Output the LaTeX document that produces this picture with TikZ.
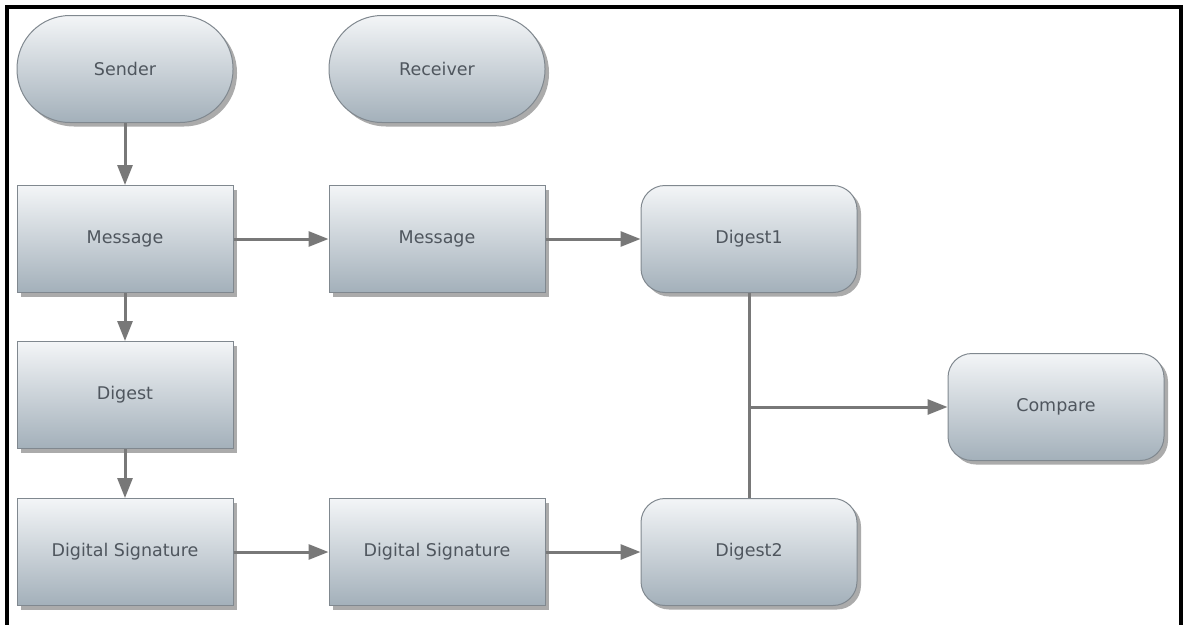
\documentclass[tikz,border=0pt]{standalone}
\usepackage{fontspec}
\setmainfont{DejaVu Sans}
\usetikzlibrary{arrows.meta,shadows}
\definecolor{txt}{HTML}{4F565E}
\definecolor{topc}{HTML}{F3F5F7}
\definecolor{botc}{HTML}{A3B0BA}
\definecolor{edgec}{HTML}{80888F}
\definecolor{linec}{HTML}{787878}
\tikzset{
 base/.style={draw=edgec, line width=1pt, top color=topc, bottom color=botc,
   minimum width=216pt, minimum height=107pt, text=txt,
   font=\fontsize{17.5}{20}\selectfont,
   drop shadow={shadow xshift=4pt, shadow yshift=-4pt, fill=black!60, opacity=0.55}},
 rectbox/.style={base},
 roundbox/.style={base, rounded corners=24pt},
 pill/.style={base, rounded corners=53pt},
 connline/.style={draw=linec, line width=3pt},
 conn/.style={connline, -{Triangle[length=20pt,width=15pt]}},
 frame/.style={draw=black, line width=3.5pt},
}
\begin{document}
\begin{tikzpicture}[x=1pt, y=-1pt]
\useasboundingbox (0,0) rectangle (1183,624);
\draw[frame] (7,626) -- (7,7) -- (1181,7) -- (1181,626);
\node[pill] (sender) at (125,69) {Sender};
\node[pill] (receiver) at (437,69) {Receiver};
\node[rectbox] (msg1) at (125,239) {Message};
\node[rectbox] (msg2) at (437,239) {Message};
\node[roundbox] (dig1) at (749,239) {Digest1};
\node[rectbox] (dig) at (125,395) {Digest};
\node[roundbox] (cmp) at (1056,407) {Compare};
\node[rectbox] (ds1) at (125,552) {Digital Signature};
\node[rectbox] (ds2) at (437,552) {Digital Signature};
\node[roundbox] (dig2) at (749,552) {Digest2};
\draw[conn] (sender) -- (msg1);
\draw[conn] (msg1) -- (dig);
\draw[conn] (dig) -- (ds1);
\draw[conn] (msg1) -- (msg2);
\draw[conn] (msg2) -- (dig1);
\draw[conn] (ds1) -- (ds2);
\draw[conn] (ds2) -- (dig2);
\draw[connline] (dig1) -- (dig2);
\coordinate (j) at (749,407);
\draw[conn] (j) -- (cmp);
\end{tikzpicture}
\end{document}
